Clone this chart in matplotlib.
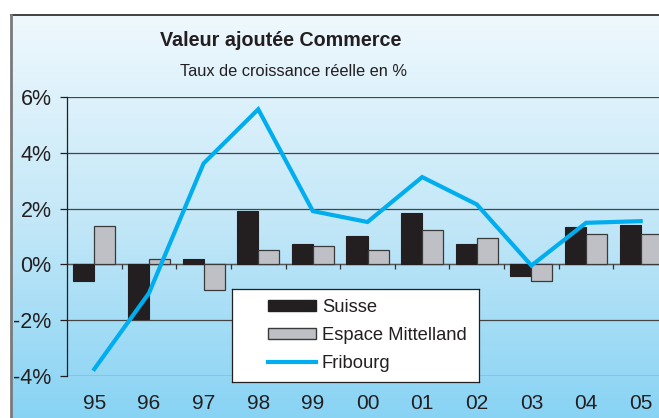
import numpy as np
import matplotlib
matplotlib.use("Agg")
import matplotlib.pyplot as plt
from matplotlib.patches import Patch
from matplotlib.lines import Line2D
from matplotlib.colors import LinearSegmentedColormap

plt.rcParams['font.family'] = ['Liberation Sans', 'DejaVu Sans']

years = ["95", "96", "97", "98", "99", "00", "01", "02", "03", "04", "05"]
suisse = [-0.6, -1.95, 0.2, 1.92, 0.73, 1.03, 1.85, 0.73, -0.4, 1.34, 1.4]
espace = [1.39, 0.2, -0.91, 0.5, 0.65, 0.5, 1.23, 0.95, -0.61, 1.1, 1.1]
fribourg = [-3.75, -1.03, 3.62, 5.56, 1.91, 1.52, 3.13, 2.15, -0.04, 1.49, 1.55]
yticks = [-4, -2, 0, 2, 4, 6]
ytick_labels = ["-4%", "-2%", "0%", "2%", "4%", "6%"]
title = "Valeur ajoutée Commerce"
subtitle = "Taux de croissance réelle en %"
labels = ["Suisse", "Espace Mittelland", "Fribourg"]

W, H = 659, 418
fig = plt.figure(figsize=(W / 100, H / 100), dpi=100)
fig.patch.set_facecolor("white")

def fx(px):
    return px / W

def fy(py):
    return 1 - py / H

# gradient background box
box_l, box_t = 11, 15
bg = fig.add_axes([fx(box_l), 0, 1 - fx(box_l), fy(box_t)], zorder=0)
cmap = LinearSegmentedColormap.from_list("bg", ["#EFF8FD", "#C4E8F8", "#88D3F4"])
grad = np.linspace(0, 1, 256).reshape(-1, 1)
bg.imshow(grad, aspect="auto", cmap=cmap, extent=[0, 1, 0, 1], origin="upper")
bg.set_xlim(0, 1)
bg.set_ylim(0, 1)
bg.axis("off")
fig.add_artist(Line2D([fx(box_l), 1], [fy(box_t), fy(box_t)], color="#333333", lw=1.3, transform=fig.transFigure, zorder=1))
fig.add_artist(Line2D([fx(box_l), fx(box_l)], [0, fy(box_t)], color="#7a7a7a", lw=2.0, transform=fig.transFigure, zorder=1))

# main axes
left_px, right_px = 67, 668
top_px, bot_px = 97, 376
ax = fig.add_axes([fx(left_px), fy(bot_px), fx(right_px - left_px), fy(top_px) - fy(bot_px)], zorder=2)
ax.patch.set_alpha(0)
x = np.arange(len(years))
w = 0.385
ax.bar(x - w / 2, suisse, w, color="#231F20", edgecolor="#231F20", lw=0.8, zorder=3)
ax.bar(x + w / 2, espace, w, color="#BEC0C5", edgecolor="#3a3a3a", lw=0.9, zorder=3)
ax.plot(x, fribourg, color="#00AEEF", lw=3.0, zorder=4, solid_joinstyle="miter")

ax.set_xlim(-0.5, len(years) - 0.5)
ax.set_ylim(-4, 6)
ax.set_yticks(yticks)
ax.set_yticklabels(ytick_labels, fontsize=15.5, color="#231F20")
ax.set_xticks(x)
ax.set_xticklabels(years, fontsize=15, color="#231F20")
ax.tick_params(axis="x", length=0, pad=13)
ax.tick_params(axis="y", length=5, width=0.9, pad=6, direction="out", color="#231F20")
for s in ["top", "right", "bottom"]:
    ax.spines[s].set_visible(False)
ax.spines["left"].set_color("#231F20")
ax.spines["left"].set_linewidth(0.9)
ax.grid(axis="y", color="#444444", lw=0.9, zorder=1)
ax.set_axisbelow(True)
ax.axhline(0, color="#555555", lw=0.9, zorder=2)
ax.vlines(np.arange(0.5, len(years) - 0.5, 1), -0.17, 0, color="#333333", lw=0.9, zorder=2)

# titles
fig.text(fx(281), fy(40), title, fontsize=14.2, fontweight="bold", ha="center", va="center", color="#231F20")
fig.text(fx(294), fy(71), subtitle, fontsize=11.8, ha="center", va="center", color="#231F20")

# legend box
lg_l, lg_r, lg_t, lg_b = 232, 479, 289, 382
lax = fig.add_axes([fx(lg_l), fy(lg_b), fx(lg_r - lg_l), fy(lg_t) - fy(lg_b)], zorder=5)
lax.set_xticks([])
lax.set_yticks([])
lax.set_facecolor("white")
for s in lax.spines.values():
    s.set_color("#231F20")
    s.set_linewidth(0.9)
handles = [Patch(facecolor="#231F20", edgecolor="#231F20"),
           Patch(facecolor="#BEC0C5", edgecolor="#3a3a3a"),
           Line2D([0], [0], color="#00AEEF", lw=3.0)]
lax.legend(handles, labels, loc="center left", bbox_to_anchor=(0.145, 0.5), frameon=False,
           fontsize=13.2, handlelength=2.65, handleheight=0.6, handletextpad=0.3,
           labelspacing=0.6, borderpad=0, borderaxespad=0, labelcolor="#231F20")

fig.savefig("out.png", dpi=100)
